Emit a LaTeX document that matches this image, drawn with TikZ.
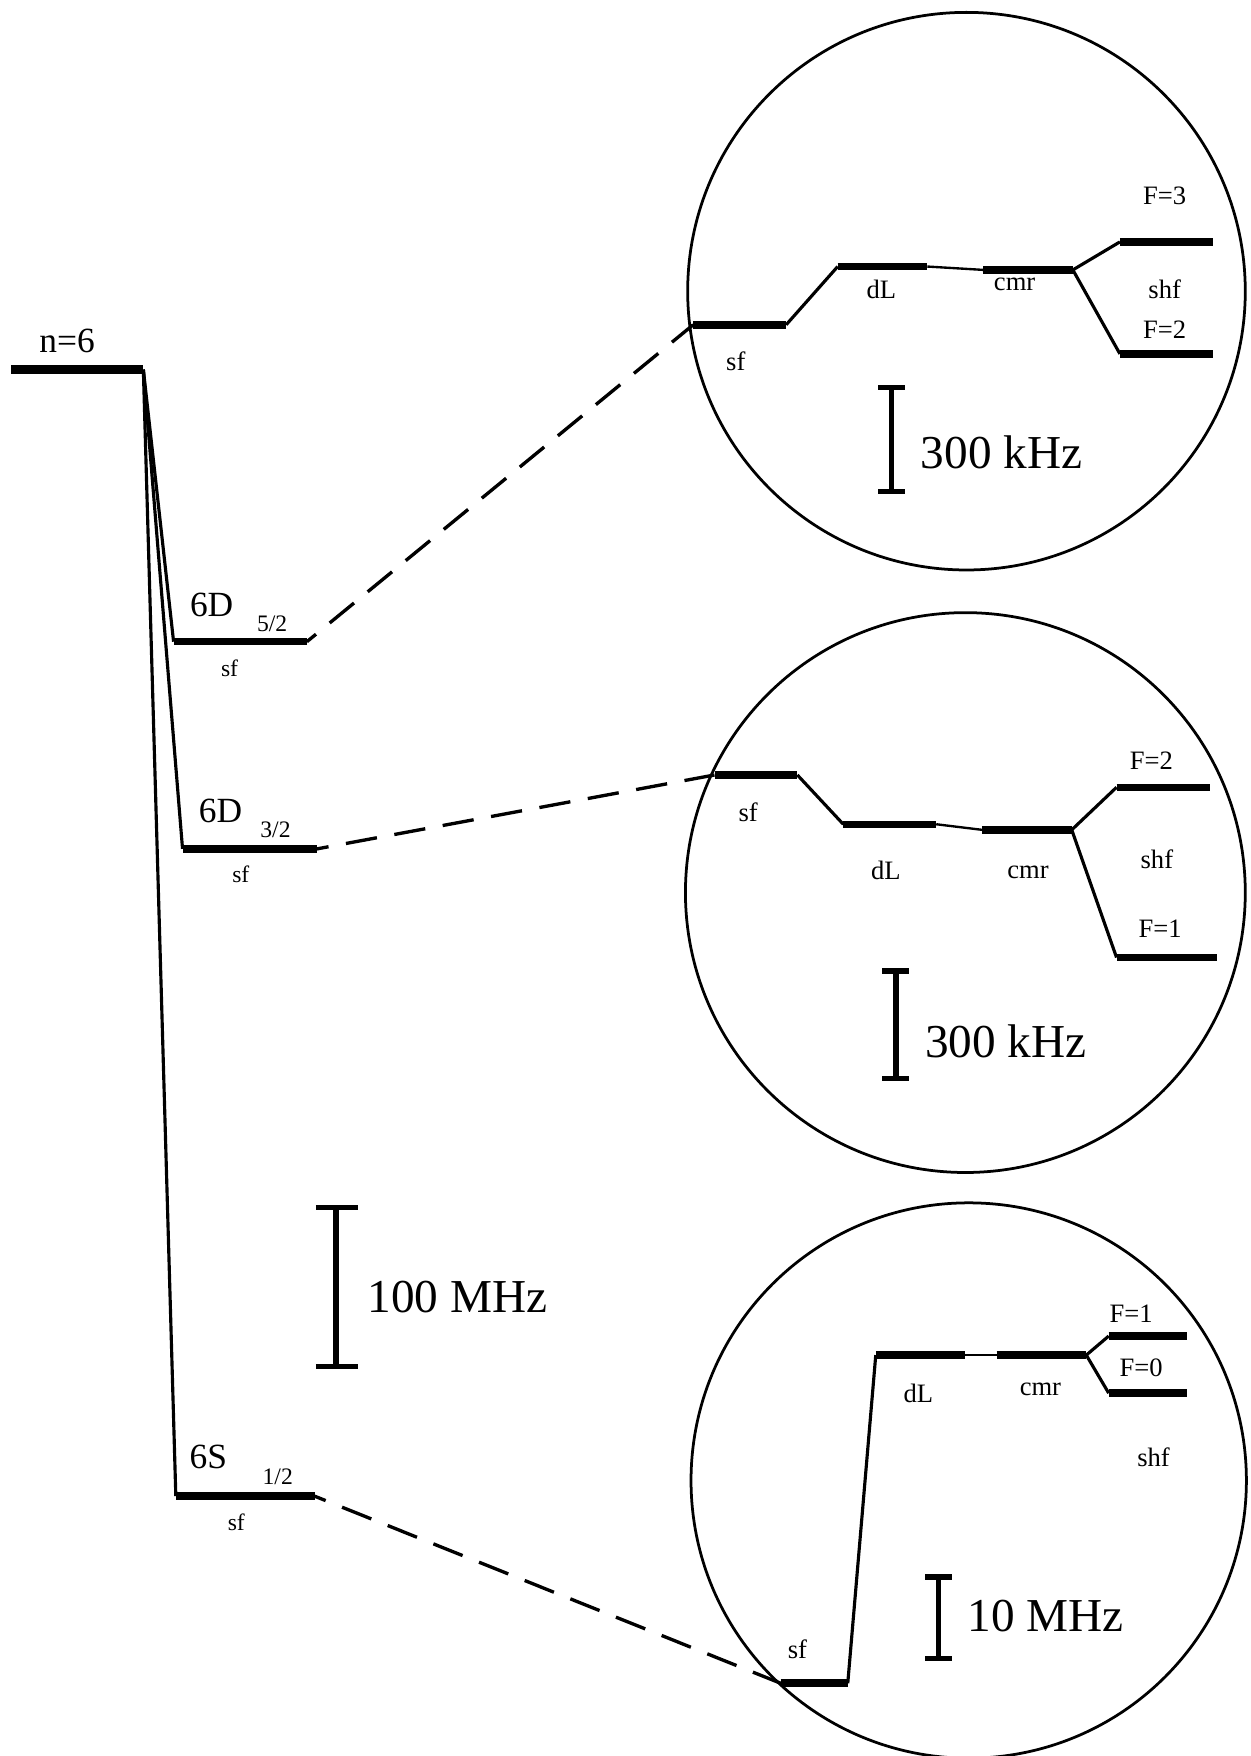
\documentclass[tikz,border=0pt]{standalone}
\usepackage{fontspec}
\setmainfont{Liberation Serif}
\usetikzlibrary{positioning,calc}

\begin{document}
\begin{tikzpicture}[x=0.02cm,y=-0.02cm,
    level/.style={line width=3.8pt},
    fan/.style={line width=1.6pt},
    bridge/.style={line width=1.2pt},
    link/.style={line width=1.7pt, dash pattern=on 16pt off 9pt, dash phase=10pt},
    bar/.style={line width=2.8pt},
    ring/.style={line width=1.4pt},
    big/.style={font=\fontsize{18}{20}\selectfont},
    sub/.style={font=\fontsize{12}{14}\selectfont},
    lbl/.style={font=\fontsize{13.5}{15}\selectfont},
    unit/.style={font=\fontsize{24}{26}\selectfont, anchor=west}]
    \useasboundingbox (0,0) rectangle (1117,1568);

    % n=6 and the three fine structure levels
    \node[big] (nsix) at (60,304) {n=6};
    \coordinate (nL) at (10,330);
    \coordinate (nR) at (128,330);
    \draw[level, line width=4.2pt] (nL) -- (nR);
    \coordinate (dfiveL) at (155,573);
    \coordinate (dfiveR) at (274,573);
    \coordinate (dthreeL) at (163,758);
    \coordinate (dthreeR) at (283,758);
    \coordinate (sL) at (157,1336);
    \coordinate (sR) at (281,1336);
    \draw[fan] (nR) -- (dfiveL);
    \draw[fan] (nR) -- (dthreeL);
    \draw[fan] (nR) -- (sL);
    \draw[level] (dfiveL) -- (dfiveR);
    \draw[level] (dthreeL) -- (dthreeR);
    \draw[level] (sL) -- (sR);
    \node[big] (dfive) at (189,540) {6D};
    \node[sub] (dfivej) at (243,557) {5/2};
    \node[sub] (dfivesf) at (205,597) {sf};
    \node[big] (dthree) at (197,724) {6D};
    \node[sub] (dthreej) at (246,741) {3/2};
    \node[sub] (dthreesf) at (215,781) {sf};
    \node[big] (ssix) at (186,1301) {6S};
    \node[sub] (ssixj) at (248,1319) {1/2};
    \node[sub] (ssixsf) at (211,1359) {sf};

    % 100 MHz scale
    \draw[bar] (282,1078) -- (320,1078) (300,1078) -- (300,1220) (282,1220) -- (320,1220);
    \node[unit] (hundred) at (322,1158) {100 MHz};

    % upper circle: 6D 5/2
    \draw[ring] (863,260) circle (4.98cm);
    \coordinate (aA) at (619,290);
    \coordinate (aB) at (702,290);
    \coordinate (aC) at (748,238);
    \coordinate (aD) at (828,238);
    \coordinate (aE) at (878,241);
    \coordinate (aF) at (958,241);
    \draw[level] (aA) -- (aB);
    \draw[fan] (aB) -- (aC);
    \draw[level] (aC) -- (aD);
    \draw[bridge] (aD) -- (aE);
    \draw[level] (aE) -- (aF);
    \draw[fan] (aF) -- (1000,216);
    \draw[fan] (aF) -- (1000,316);
    \draw[level] (1000,216) -- (1083,216);
    \draw[level] (1000,316) -- (1083,316);
    \node[lbl] (asf) at (657,323) {sf};
    \node[lbl] (adl) at (787,258) {dL};
    \node[lbl] (acmr) at (906,254) {cmr};
    \node[lbl] (athree) at (1040,175) {F=3};
    \node[lbl] (ashf) at (1040,258) {shf};
    \node[lbl] (atwo) at (1040,294) {F=2};

    % middle circle: 6D 3/2
    \draw[ring] (862,797) circle (5cm);
    \coordinate (bA) at (638,692);
    \coordinate (bB) at (712,692);
    \coordinate (bC) at (753,736);
    \coordinate (bD) at (836,736);
    \coordinate (bE) at (877,741);
    \coordinate (bF) at (957,741);
    \draw[level] (bA) -- (bB);
    \draw[fan] (bB) -- (bC);
    \draw[level] (bC) -- (bD);
    \draw[bridge] (bD) -- (bE);
    \draw[level] (bE) -- (bF);
    \draw[fan] (bF) -- (997,703);
    \draw[fan] (bF) -- (997,855);
    \draw[level] (997,703) -- (1080,703);
    \draw[level] (997,855) -- (1087,855);
    \node[lbl] (bsf) at (668,725) {sf};
    \node[lbl] (bdl) at (791,777) {dL};
    \node[lbl] (bcmr) at (918,779) {cmr};
    \node[lbl] (btwo) at (1028,679) {F=2};
    \node[lbl] (bshf) at (1033,767) {shf};
    \node[lbl] (bone) at (1036,829) {F=1};

    % lower circle: 6S 1/2
    \draw[ring] (865,1322) circle (4.96cm);
    \coordinate (cA) at (697,1503);
    \coordinate (cB) at (757,1503);
    \coordinate (cC) at (782,1210);
    \coordinate (cD) at (862,1210);
    \coordinate (cE) at (890,1210);
    \coordinate (cF) at (970,1210);
    \draw[level] (cA) -- (cB);
    \draw[fan] (cB) -- (cC);
    \draw[level] (cC) -- (cD);
    \draw[bridge] (cD) -- (cE);
    \draw[level] (cE) -- (cF);
    \draw[fan] (cF) -- (990,1193);
    \draw[fan] (cF) -- (990,1244);
    \draw[level] (990,1193) -- (1060,1193);
    \draw[level] (990,1244) -- (1060,1244);
    \node[lbl] (csf) at (712,1473) {sf};
    \node[lbl] (cdl) at (820,1244) {dL};
    \node[lbl] (ccmr) at (929,1241) {cmr};
    \node[lbl] (cone) at (1010,1173) {F=1};
    \node[lbl] (czero) at (1019,1221) {F=0};
    \node[lbl] (cshf) at (1030,1301) {shf};

    % scales inside the circles
    \foreach \x/\ya/\yb/\yt/\txt [count=\i] in {796/346/439/404/300 kHz, 800/867/963/930/300 kHz, 838/1408/1481/1443/10 MHz} {
        \draw[bar] (\x-12,\ya) -- (\x+12,\ya) (\x,\ya) -- (\x,\yb) (\x-12,\yb) -- (\x+12,\yb);
        \node[unit] (scale\i) at (\x+20,\yt) {\txt};
    }

    % dashed links into the circles
    \draw[link] (dfiveR) -- (aA);
    \draw[link] (dthreeR) -- (bA);
    \draw[link] (sR) -- (cA);
\end{tikzpicture}
\end{document}
